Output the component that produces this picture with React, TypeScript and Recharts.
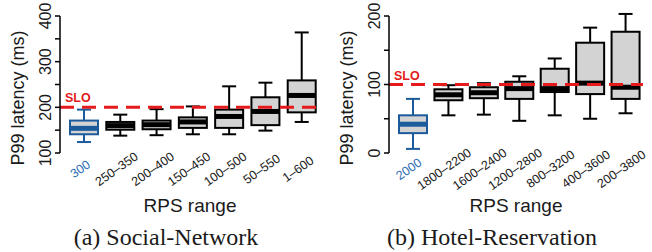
import React from 'react';
import { ComposedChart, Bar, XAxis, YAxis, ReferenceLine } from 'recharts';

// Social-Network panel (ms)
const socialCats = ['300', '250–350', '200–400', '150–450', '100–500', '50–550', '1–600'];
const socialMin = [124, 138, 139, 141, 141, 149, 168];
const socialQ1 = [141, 151, 152, 155, 155, 161, 189];
const socialMed = [154, 160, 162, 168, 180, 191, 226];
const socialQ3 = [171, 168, 171, 178, 195, 222, 259];
const socialMax = [195, 184, 196, 202, 246, 254, 364];
const socialTicks = [100, 150, 200, 250, 300, 350, 400];
const socialSlo = 200;

// Hotel-Reservation panel (ms)
const hotelCats = ['2000', '1800–2200', '1600–2400', '1200–2800', '800–3200', '400–3600', '200–3800'];
const hotelMin = [6, 55, 56, 47, 55, 50, 58];
const hotelQ1 = [29, 77, 80, 79, 89, 86, 79];
const hotelMed = [42, 85, 88, 94, 94, 102, 96];
const hotelQ3 = [55, 93, 96, 104, 123, 161, 177];
const hotelMax = [79, 99, 102, 112, 138, 183, 203];
const hotelTicks = [0, 50, 100, 150, 200];
const hotelSlo = 100;

const BOX_BLUE = '#1c5b9b';
const LABEL_BLUE = '#2f6fb4';
const SLO_RED = '#e41a1c';
const BOX_FILL = '#d3d3d3';
const INK = '#1a1a1a';
const SANS = '"Liberation Sans", Arial, sans-serif';
const SERIF = '"Liberation Serif", "Times New Roman", serif';

function buildRows(cats: string[], mins: number[], q1s: number[], meds: number[], q3s: number[], maxs: number[]) {
  return cats.map((name, i) => ({
    name,
    box: [q1s[i], q3s[i]],
    min: mins[i],
    q1: q1s[i],
    med: meds[i],
    q3: q3s[i],
    max: maxs[i],
    hl: i === 0,
  }));
}

const socialRows = buildRows(socialCats, socialMin, socialQ1, socialMed, socialQ3, socialMax);
const hotelRows = buildRows(hotelCats, hotelMin, hotelQ1, hotelMed, hotelQ3, hotelMax);

// whiskers are extrapolated from the box's own pixel scale
const BoxShape = (props: any) => {
  const { x, y, width, height, payload } = props;
  const p = payload;
  const ppu = height / (p.q3 - p.q1);
  const py = (v: number) => y + (p.q3 - v) * ppu;
  const cx = x + width / 2;
  const col = p.hl ? BOX_BLUE : '#000';
  const cap = width * 0.5;
  return (
    <g>
      <line x1={cx} x2={cx} y1={py(p.max)} y2={py(p.q3)} stroke={col} strokeWidth={2} />
      <line x1={cx} x2={cx} y1={py(p.q1)} y2={py(p.min)} stroke={col} strokeWidth={2} />
      <line x1={cx - cap / 2} x2={cx + cap / 2} y1={py(p.max)} y2={py(p.max)} stroke={col} strokeWidth={2} />
      <line x1={cx - cap / 2} x2={cx + cap / 2} y1={py(p.min)} y2={py(p.min)} stroke={col} strokeWidth={2} />
      <rect x={x} y={y} width={width} height={height} fill={BOX_FILL} stroke={col} strokeWidth={2} />
      <line x1={x} x2={x + width} y1={py(p.med)} y2={py(p.med)} stroke={col} strokeWidth={5} />
    </g>
  );
};

const XTick = ({ x, y, payload, index }: any) => (
  <text
    transform={`translate(${x - 4},${y + 8}) rotate(-35)`}
    textAnchor="middle"
    dy="0.35em"
    fontSize={12.5}
    fontFamily={SANS}
    fill={index === 0 ? LABEL_BLUE : INK}
  >
    {payload.value}
  </text>
);

const YTick = ({ x, y, payload }: any) => {
  if (payload.value % 100 !== 0) return <g />;
  return (
    <text transform={`translate(${x - 2},${y}) rotate(-90)`} textAnchor="middle" fontSize={16} fontFamily={SANS} fill={INK}>
      {payload.value}
    </text>
  );
};

const SloLabel = ({ viewBox }: any) => (
  <text x={viewBox.x + 5} y={viewBox.y - 5} fill={SLO_RED} fontWeight="bold" fontSize={12.5} fontFamily={SANS}>
    SLO
  </text>
);

interface PanelProps {
  rows: any[];
  ticks: number[];
  slo: number;
  axisWidth: number;
  rightMargin: number;
  caption: string;
}

function Panel({ rows, ticks, slo, axisWidth, rightMargin, caption }: PanelProps) {
  const plotMid = axisWidth + (326 - axisWidth - rightMargin) / 2;
  return (
    <ComposedChart width={326} height={252} data={rows} margin={{ top: 16, right: rightMargin, bottom: 0, left: 0 }}>
      <XAxis
        dataKey="name"
        height={99}
        axisLine={false}
        tickLine={false}
        interval={0}
        padding={{ left: 6, right: 0 }}
        tick={(p: any) => <XTick {...p} />}
        label={{
          content: () => (
            <g>
              <text x={plotMid} y={212} textAnchor="middle" fontSize={19} fontFamily={SANS} fill={INK}>
                RPS range
              </text>
              <text x={166} y={245} textAnchor="middle" fontSize={24} fontFamily={SERIF} fill={INK}>
                {caption}
              </text>
            </g>
          ),
        }}
      />
      <YAxis
        width={axisWidth}
        domain={[ticks[0], ticks[ticks.length - 1]]}
        ticks={ticks}
        interval={0}
        tickSize={5}
        stroke="#000"
        strokeWidth={1.5}
        tick={(p: any) => <YTick {...p} />}
        label={{
          content: () => (
            <text
              transform={`translate(${axisWidth - 36},98) rotate(-90)`}
              textAnchor="middle"
              fontSize={18}
              fontFamily={SANS}
              fill={INK}
            >
              P99 latency (ms)
            </text>
          ),
        }}
      />
      <Bar dataKey="box" barSize={28} shape={<BoxShape />} isAnimationActive={false} />
      <ReferenceLine y={slo} stroke={SLO_RED} strokeWidth={3} strokeDasharray="14 8" label={<SloLabel />} />
    </ComposedChart>
  );
}

export default function App() {
  return (
    <div style={{ position: 'absolute', left: 0, top: 0, width: 652, height: 252, display: 'flex', background: '#fff' }}>
      <Panel rows={socialRows} ticks={socialTicks} slo={socialSlo} axisWidth={60} rightMargin={6} caption="(a) Social-Network" />
      <Panel rows={hotelRows} ticks={hotelTicks} slo={hotelSlo} axisWidth={63} rightMargin={9} caption="(b) Hotel-Reservation" />
    </div>
  );
}
